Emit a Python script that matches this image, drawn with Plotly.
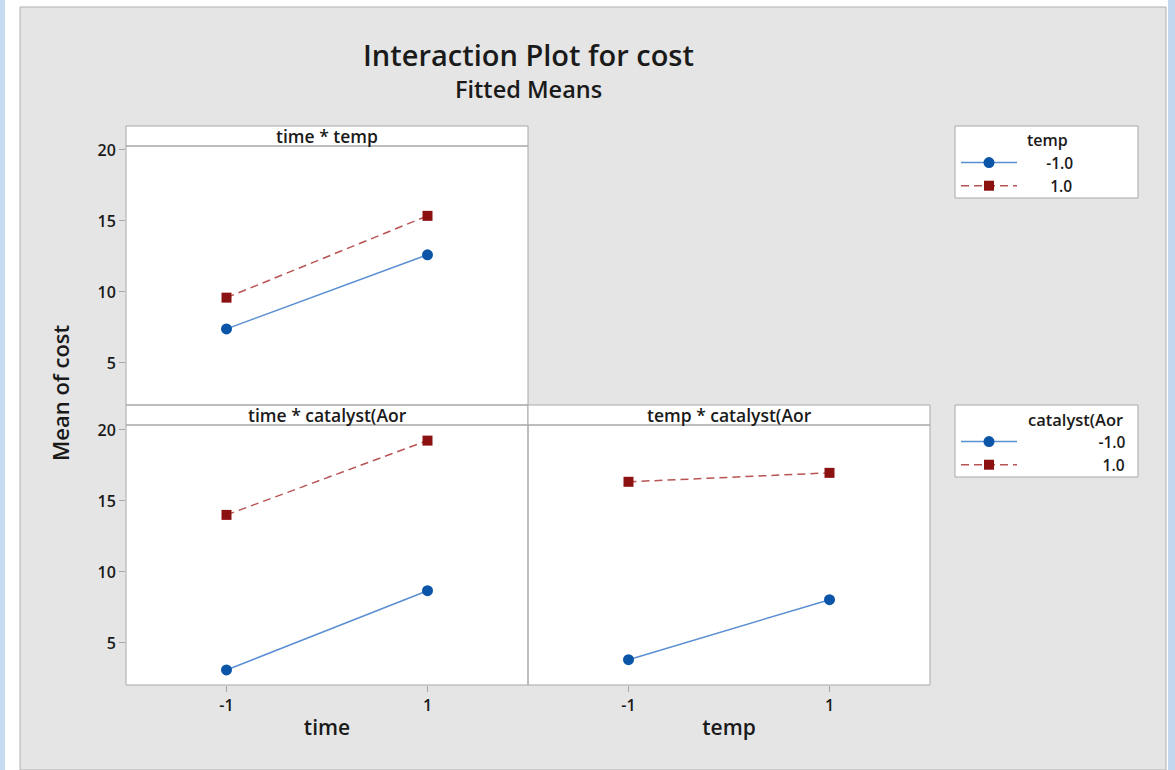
import plotly.graph_objects as go

# ---------------- data ----------------
levels = [-1, 1]
tick_text = ["-1", "1"]
legend_levels = ["-1.0", "1.0"]

# time * temp panel (series by temp level)
time_temp_low = [7.40, 12.62]
time_temp_high = [9.60, 15.36]
# time * catalyst panel (series by catalyst level)
time_cat_low = [3.10, 8.68]
time_cat_high = [14.02, 19.25]
# temp * catalyst panel (series by catalyst level)
temp_cat_low = [3.82, 8.05]
temp_cat_high = [16.35, 16.98]

y_ticks = [5, 10, 15, 20]

W, H = 1175, 770


def px(x):
    return x / W


def py(y):
    return 1 - y / H


BLUE_M = "#0b55a8"
BLUE_L = "#5a8fd2"
RED_M = "#8c1212"
RED_L = "#b85454"
FONT = "Open Sans"
TXT = "#1a1a1a"
BORDER = "#a8a8a8"
NB = "\u00a0"

fig = go.Figure()


def add_pair(xa, ya, low, high, legend, show, pad_low, pad_high):
    fig.add_trace(go.Scatter(
        x=levels, y=low, xaxis=xa, yaxis=ya, mode="lines+markers",
        name=NB * pad_low + legend_levels[0], legend=legend, showlegend=show,
        line=dict(color=BLUE_L, width=1.5),
        marker=dict(symbol="circle", size=11, color=BLUE_M)))
    fig.add_trace(go.Scatter(
        x=levels, y=high, xaxis=xa, yaxis=ya, mode="lines+markers",
        name=NB * pad_high + legend_levels[1], legend=legend, showlegend=show,
        line=dict(color=RED_L, width=1.5, dash="8px,5px"),
        marker=dict(symbol="square", size=10, color=RED_M)))


add_pair("x", "y", time_temp_low, time_temp_high, "legend", True, 6, 7)
add_pair("x2", "y2", time_cat_low, time_cat_high, "legend2", True, 19, 20)
add_pair("x3", "y3", temp_cat_low, temp_cat_high, "legend2", False, 19, 20)

tickfont = dict(family=FONT, size=16, color=TXT, weight=600)
xrange = [-2, 2]
yrange_top = [2.04, 20.28]
yrange_bot = [2.04, 20.35]

common_x = dict(range=xrange, showgrid=False, zeroline=False, showline=False,
                tickvals=levels, ticktext=tick_text, tickfont=tickfont,
                ticks="outside", ticklen=6, tickcolor=BORDER)
common_y = dict(showgrid=False, zeroline=False, showline=False,
                tickvals=y_ticks, tickfont=tickfont,
                ticks="outside", ticklen=6, tickcolor=BORDER)

legend_common = dict(xanchor="left", yanchor="top",
                     bgcolor="rgba(0,0,0,0)", borderwidth=0,
                     font=dict(family=FONT, size=15.5, color=TXT, weight=600),
                     itemwidth=56, tracegroupgap=0)

fig.update_layout(
    width=W, height=H,
    margin=dict(l=0, r=0, t=0, b=0, autoexpand=False),
    paper_bgcolor="white",
    plot_bgcolor="white",
    xaxis=dict(common_x, domain=[px(126), px(528)], anchor="y",
               showticklabels=False, ticks=""),
    yaxis=dict(common_y, domain=[py(405), py(146)], anchor="x",
               range=yrange_top),
    xaxis2=dict(common_x, domain=[px(126), px(528)], anchor="y2",
                title=dict(text="time", standoff=5,
                           font=dict(family=FONT, size=21, color=TXT, weight=600))),
    yaxis2=dict(common_y, domain=[py(685), py(425)], anchor="x2",
                range=yrange_bot),
    xaxis3=dict(common_x, domain=[px(528), px(930)], anchor="y3",
                title=dict(text="temp", standoff=5,
                           font=dict(family=FONT, size=21, color=TXT, weight=600))),
    yaxis3=dict(common_y, domain=[py(685), py(425)], anchor="x3",
                range=yrange_bot, showticklabels=False, ticks=""),
    legend=dict(legend_common, x=px(956), y=py(146)),
    legend2=dict(legend_common, x=px(956), y=py(425)),
)

shapes = [
    # window chrome and background
    dict(type="rect", xref="paper", yref="paper", x0=px(0), x1=px(5), y0=0, y1=1,
         fillcolor="#c7dbf0", line=dict(width=0), layer="below"),
    dict(type="rect", xref="paper", yref="paper", x0=px(1168), x1=px(1175), y0=0, y1=1,
         fillcolor="#c3d7ee", line=dict(width=0), layer="below"),
    dict(type="rect", xref="paper", yref="paper", x0=px(20), x1=px(1166), y0=py(770), y1=py(7),
         fillcolor="#e5e5e5", line=dict(color="#b0b0b0", width=1), layer="below"),
    # white plot areas
    dict(type="rect", xref="paper", yref="paper", x0=px(126), x1=px(528), y0=py(405), y1=py(146),
         fillcolor="white", line=dict(width=0), layer="below"),
    dict(type="rect", xref="paper", yref="paper", x0=px(126), x1=px(930), y0=py(685), y1=py(425),
         fillcolor="white", line=dict(width=0), layer="below"),
    # legend boxes
    dict(type="rect", xref="paper", yref="paper", x0=px(955), x1=px(1138), y0=py(198), y1=py(126),
         fillcolor="white", line=dict(color=BORDER, width=1), layer="below"),
    dict(type="rect", xref="paper", yref="paper", x0=px(955), x1=px(1138), y0=py(477), y1=py(405),
         fillcolor="white", line=dict(color=BORDER, width=1), layer="below"),
    # panel header boxes
    dict(type="rect", xref="paper", yref="paper", x0=px(126), x1=px(528), y0=py(146), y1=py(126),
         fillcolor="white", line=dict(color=BORDER, width=1)),
    dict(type="rect", xref="paper", yref="paper", x0=px(126), x1=px(528), y0=py(425), y1=py(405),
         fillcolor="white", line=dict(color=BORDER, width=1)),
    dict(type="rect", xref="paper", yref="paper", x0=px(528), x1=px(930), y0=py(425), y1=py(405),
         fillcolor="white", line=dict(color=BORDER, width=1)),
    # panel frames
    dict(type="rect", xref="paper", yref="paper", x0=px(126), x1=px(528), y0=py(405), y1=py(146),
         line=dict(color=BORDER, width=1)),
    dict(type="rect", xref="paper", yref="paper", x0=px(126), x1=px(528), y0=py(685), y1=py(425),
         line=dict(color=BORDER, width=1)),
    dict(type="rect", xref="paper", yref="paper", x0=px(528), x1=px(930), y0=py(685), y1=py(425),
         line=dict(color=BORDER, width=1)),
]
fig.update_layout(shapes=shapes)


def ann(text, x, y, size, xanchor="center", angle=0):
    return dict(text=text, x=px(x), y=py(y), xref="paper", yref="paper",
                xanchor=xanchor, yanchor="middle", showarrow=False, textangle=angle,
                font=dict(family=FONT, size=size, color=TXT, weight=600))


annotations = [
    ann("Interaction Plot for cost", 528, 55, 29),
    ann("Fitted Means", 528, 89, 23.5),
    ann("time * temp", 327, 136, 17.5),
    ann("time * catalyst(Aor", 327, 415, 17.5),
    ann("temp * catalyst(Aor", 729, 415, 17.5),
    ann("Mean of cost", 60, 393, 22, angle=-90),
    ann("temp", 1070, 140, 16, xanchor="right"),
    ann("catalyst(Aor", 1125, 419, 16.5, xanchor="right"),
]
fig.update_layout(annotations=annotations)

fig.write_html("out.html", config={"displayModeBar": False},
               post_script="document.body.style.margin='0';")
